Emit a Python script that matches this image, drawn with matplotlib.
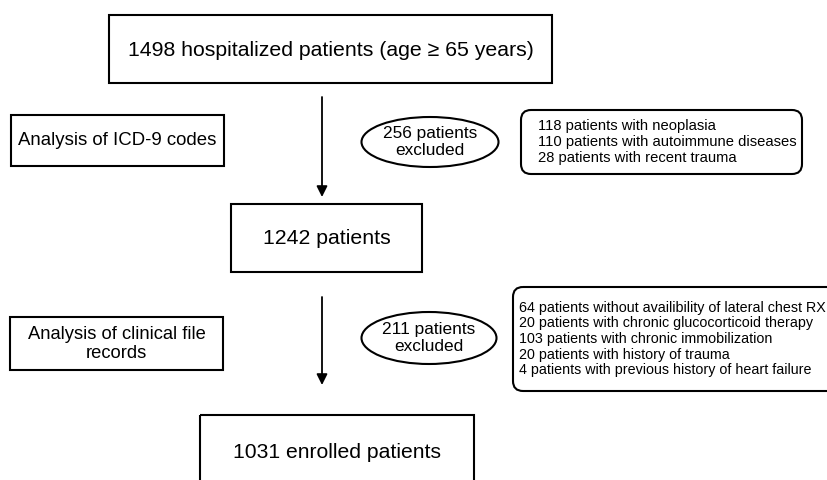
import matplotlib.pyplot as plt
from matplotlib.patches import Rectangle, Ellipse, FancyBboxPatch

plt.rcParams['font.family'] = ['Liberation Sans', 'DejaVu Sans']

# Dados do fluxograma
total_patients = 1498
after_icd = 1242
enrolled = 1031
excluded_icd = 256
excluded_clinical = 211

icd_reasons = ["118 patients with neoplasia",
               "110 patients with autoimmune diseases",
               "28 patients with recent trauma"]
clinical_reasons = ["64 patients without availibility of lateral chest RX",
                    "20 patients with chronic glucocorticoid therapy",
                    "103 patients with chronic immobilization",
                    "20 patients with history of trauma",
                    "4 patients with previous history of heart failure"]

step_labels = ["Analysis of ICD-9 codes", "Analysis of clinical file\nrecords"]

fig = plt.figure(figsize=(8.28, 4.8), dpi=100)
ax = fig.add_axes([0, 0, 1, 1])
ax.set_xlim(0, 828)
ax.set_ylim(480, 0)
ax.axis('off')

lw = 1.5

def box(x0, y0, x1, y1, text, size, ty=None):
    ax.add_patch(Rectangle((x0, y0), x1 - x0, y1 - y0, fill=False, lw=lw, ec='black'))
    if ty is None:
        ty = (y0 + y1) / 2
    ax.text((x0 + x1) / 2, ty, text, ha='center', va='center',
            fontsize=size, linespacing=1.2)

def rbox(x0, y0, x1, y1, lines, size, tx, sp):
    ax.add_patch(FancyBboxPatch((x0, y0), x1 - x0, y1 - y0,
                                boxstyle="round,pad=0,rounding_size=10",
                                fill=False, lw=lw, ec='black', clip_on=False))
    ax.text(tx, (y0 + y1) / 2, "\n".join(lines), ha='left', va='center',
            fontsize=size, linespacing=sp)

def oval(cx, cy, w, h, n):
    ax.add_patch(Ellipse((cx, cy), w, h, fill=False, lw=lw, ec='black'))
    ax.text(cx, cy, f"{n} patients\nexcluded", ha='center', va='center',
            fontsize=12.4, linespacing=1.15)

def arrow(x, y0, y1):
    ax.annotate("", xy=(x, y1), xytext=(x, y0),
                arrowprops=dict(arrowstyle='-|>', color='black', lw=1.3,
                                mutation_scale=16, shrinkA=0, shrinkB=0))

# Caixas principais
box(109, 15, 552, 83, f"{total_patients} hospitalized patients (age \u2265 65 years)", 15.3, ty=50)
box(231, 204, 422, 272, f"{after_icd} patients", 15.3)
box(200, 415, 474, 492, f"{enrolled} enrolled patients", 15.2, ty=452)

# Setas
arrow(322, 97, 197)
arrow(322, 297, 385)

# Etapas à esquerda
box(11, 115, 224, 166, step_labels[0], 13.4)
box(10, 317, 223, 370, step_labels[1], 13.2, ty=344)

# Exclusões
oval(430, 142, 137, 50, excluded_icd)
oval(429, 338, 135, 52, excluded_clinical)

rbox(521, 110, 802, 174, icd_reasons, 10.6, 538, 1.2)
rbox(513, 287, 845, 391, clinical_reasons, 10.3, 519, 1.15)

fig.savefig("out.png", dpi=100)
